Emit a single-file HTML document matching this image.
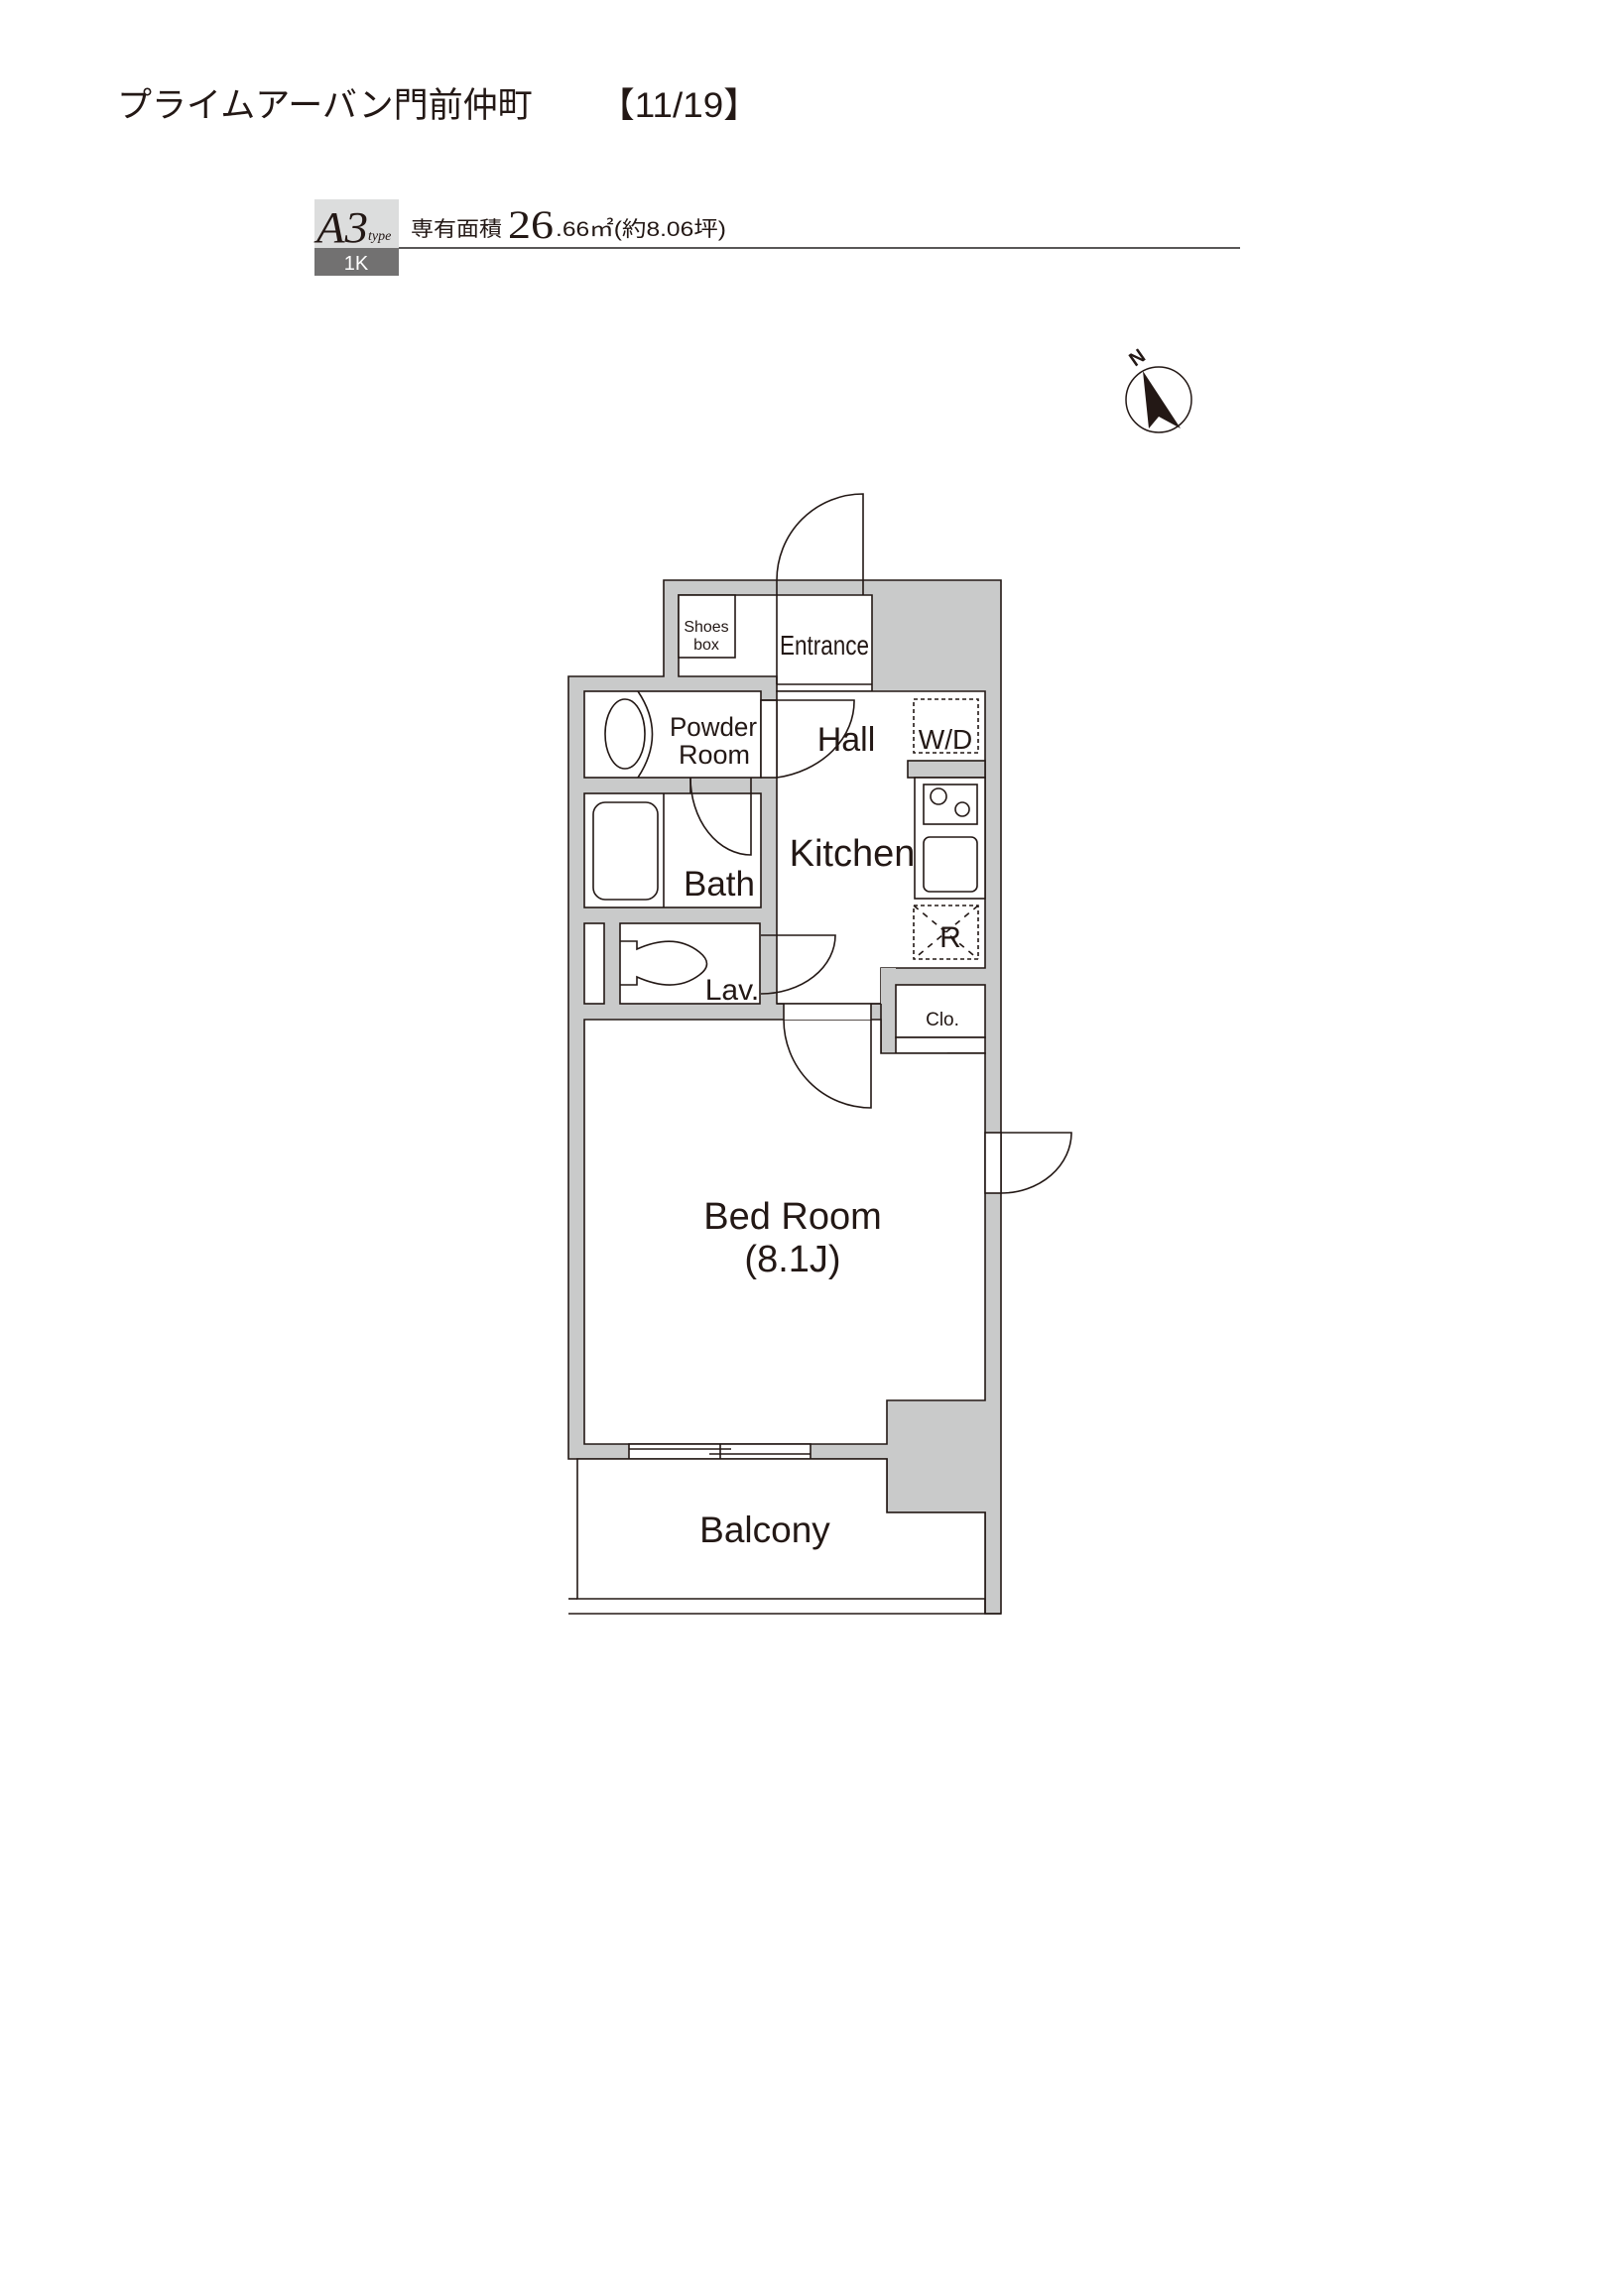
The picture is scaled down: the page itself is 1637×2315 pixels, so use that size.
<!DOCTYPE html>
<html><head><meta charset="utf-8"><style>
body{margin:0;background:#fff;}
svg{display:block}
text{font-family:"Liberation Sans","Noto Sans CJK JP",sans-serif;fill:#231815}
</style></head><body>
<svg width="1637" height="2315" viewBox="0 0 1637 2315" xmlns="http://www.w3.org/2000/svg">
<rect width="1637" height="2315" fill="#fff"/>
<text x="118" y="118" font-size="35">プライムアーバン門前仲町</text>
<text x="603" y="118" font-size="35" textLength="163" lengthAdjust="spacingAndGlyphs">【11/19】</text>
<rect x="317" y="201" width="85" height="49" fill="#dcdddd"/>
<rect x="317" y="250" width="85" height="28" fill="#727171"/>
<text x="359" y="272" font-size="20" text-anchor="middle" style="fill:#fff">1K</text>
<text x="319" y="244" font-size="44" style="font-family:'Liberation Serif',serif;font-style:italic" textLength="52" lengthAdjust="spacingAndGlyphs">A3</text>
<text x="371" y="242" font-size="14" style="font-family:'Liberation Serif',serif;font-style:italic">type</text>
<line x1="402" y1="250" x2="1250" y2="250" stroke="#595757" stroke-width="2"/>
<text x="414" y="238" font-size="21" textLength="92" lengthAdjust="spacingAndGlyphs">専有面積</text>
<text x="512" y="240" font-size="40" style="font-family:'Liberation Serif',serif" textLength="46" lengthAdjust="spacingAndGlyphs">26</text>
<text x="560" y="238" font-size="21" textLength="172" lengthAdjust="spacingAndGlyphs">.66㎡(約8.06坪)</text>
<circle cx="1168" cy="403" r="33" fill="#fff" stroke="#231815" stroke-width="1.5"/>
<polygon points="1152,374 1190,432 1168,420 1158,432" fill="#231815"/>
<text x="1150" y="366" font-size="20" transform="rotate(-35 1150 366)" text-anchor="middle" font-weight="bold">N</text>
<g stroke="#231815" stroke-width="1.6" fill="#fff">
<polygon points="669,585 1009,585 1009,1627 993,1627 993,1525 894,1525 894,1471 573,1471 573,682 669,682" fill="#c9caca"/>
<polygon points="684,600 879,600 879,697 783,697 783,682 684,682"/>
<rect x="684" y="600" width="57" height="63"/>
<line x1="783" y1="585" x2="783" y2="690"/>
<line x1="783" y1="690" x2="879" y2="690"/>
<polygon points="783,697 993,697 993,976 888,976 888,1012 783,1012"/>
<rect x="915" y="767" width="78" height="17" fill="#c9caca"/>
<rect x="922" y="784" width="71" height="122"/>
<rect x="931" y="791" width="54" height="40"/>
<circle cx="946" cy="803" r="8"/><circle cx="970" cy="816" r="7"/>
<rect x="931" y="844" width="54" height="55" rx="6"/>
<rect x="921" y="705" width="65" height="54" stroke-dasharray="4,3"/>
<rect x="921" y="913" width="65" height="54" stroke-dasharray="4,3"/>
<line x1="921" y1="913" x2="986" y2="967" stroke-dasharray="6,6"/>
<line x1="986" y1="913" x2="921" y2="967" stroke-dasharray="6,6"/>
<rect x="589" y="697" width="178" height="87"/>
<ellipse cx="630" cy="740" rx="20" ry="35"/>
<path d="M643,697 Q672,740 643,784" fill="none"/>
<rect x="767" y="706" width="16" height="78"/>
<path d="M767,706 L861,706 A94,78 0 0 1 783,784" fill="none"/>
<rect x="589" y="800" width="178" height="115"/>
<line x1="669" y1="800" x2="669" y2="915"/>
<rect x="598" y="809" width="65" height="98" rx="12"/>
<path d="M696,784 L696,800" fill="none"/>
<path d="M757,784 L757,862 A61,78 0 0 1 696,784" fill="none"/>
<rect x="589" y="931" width="20" height="81"/>
<rect x="625" y="931" width="141" height="81"/>
<path d="M625,949 L642,949 L642,957 Q680,940 705,960 Q720,972 705,983 Q680,1002 642,985 L642,993 L625,993" fill="none"/>
<path d="M767,943 L842,943 A75,59 0 0 1 767,1002" fill="none"/>
<rect x="888" y="976" width="15" height="86" fill="#c9caca" stroke="none"/>
<line x1="888" y1="1012" x2="888" y2="1062"/>
<rect x="903" y="993" width="90" height="53"/>
<rect x="903" y="1046" width="90" height="16"/>
<polygon points="956,1062 991,1062 973,1096"/>
<polygon points="589,1028 888,1028 888,1062 993,1062 993,1412 894,1412 894,1456 589,1456"/>
<rect x="790" y="1012" width="88" height="16" stroke="none"/>
<line x1="790" y1="1012" x2="790" y2="1028"/>
<line x1="783" y1="1012" x2="888" y2="1012"/>
<path d="M878,1012 L878,1117 A88,89 0 0 1 790,1028" fill="none"/>
<rect x="993" y="1142" width="16" height="61"/>
<path d="M1009,1142 L1080,1142 A71,61 0 0 1 1009,1203" fill="none"/>
<rect x="634" y="1456" width="183" height="15"/>
<line x1="634" y1="1461" x2="737" y2="1461"/>
<line x1="715" y1="1466" x2="817" y2="1466"/>
<line x1="726" y1="1456" x2="726" y2="1471"/>
<polygon points="582,1471 894,1471 894,1525 993,1525 993,1612 582,1612"/>
<line x1="573" y1="1612" x2="582" y2="1612"/>
<line x1="573" y1="1627" x2="1009" y2="1627"/>
<line x1="993" y1="1612" x2="993" y2="1627"/>
<path d="M870,600 L870,498 A87,87 0 0 0 783,585" fill="none"/>
</g>
<g text-anchor="middle">
<text x="719" y="742" font-size="27" textLength="88" lengthAdjust="spacingAndGlyphs">Powder</text>
<text x="720" y="770" font-size="27">Room</text>
<text x="712" y="637" font-size="16">Shoes</text>
<text x="712" y="655" font-size="16">box</text>
<text x="831" y="660" font-size="28" textLength="90" lengthAdjust="spacingAndGlyphs">Entrance</text>
<text x="853" y="757" font-size="34">Hall</text>
<text x="953" y="755" font-size="28">W/D</text>
<text x="859" y="873" font-size="38">Kitchen</text>
<text x="725" y="903" font-size="35">Bath</text>
<text x="958" y="955" font-size="30">R</text>
<text x="738" y="1008" font-size="30">Lav.</text>
<text x="950" y="1034" font-size="19">Clo.</text>
<text x="799" y="1239" font-size="38">Bed Room</text>
<text x="799" y="1282" font-size="38">(8.1J)</text>
<text x="771" y="1555" font-size="37">Balcony</text>
</g>
</svg>
</body></html>
